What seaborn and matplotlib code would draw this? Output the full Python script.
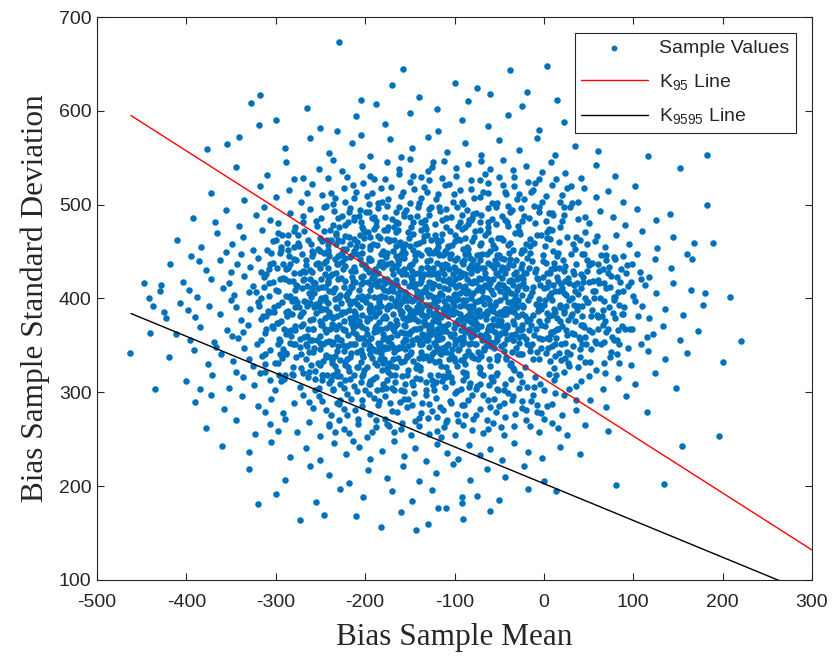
import matplotlib
matplotlib.use("Agg")
import matplotlib.pyplot as plt
import seaborn as sns
import pandas as pd

# (bias sample mean, bias sample standard deviation)
samples = [
    (-229,673),(-158,645),(3,648),(-38,643),(-100,630),(-75,624),(-19,620),(-318,617),(-328,608),(-319,585),
    (-341,572),(-377,559),(-447,417),(-442,401),(-428,414),(-437,392),(-463,342),(-435,304),(-441,363),(-423,379),
    (-320,181),(-273,164),(-246,169),(-182,157),(-143,153),(-119,177),(-110,177),(221,355),(200,332),(196,253),
    (154,243),(134,202),(81,201),(14,195),(-92,182),(-92,188),(182,553),(183,500),(189,459),(208,402),
    (116,552),(152,539),(180,406),(166,442),
    (-205,612),(-188,607),(-140,615),(-60,618),(-25,605),(-265,603),(-120,602),(-85,610),(-170,628),(15,612),
    (-300,590),(-250,582),(-210,595),(-178,586),(-150,598),(-118,578),(-92,590),(-62,584),(-40,596),(-5,580),(22,588),(-232,578),
    (-355,565),(-290,560),(-262,571),(-240,555),(-215,566),(-195,552),(-172,570),(-148,560),(-130,572),(-108,556),
    (-88,566),(-70,553),(-50,569),(-28,558),(-8,571),(12,553),(35,562),(60,557),(-160,551),(-205,574),
    (-345,540),(-310,532),(-288,546),(-270,528),(-252,538),(-236,548),(-220,530),(-204,541),(-190,527),(-176,545),
    (-162,533),(-150,549),(-138,529),(-125,540),(-112,547),(-98,531),(-85,543),(-72,526),(-60,538),(-46,548),
    (-33,530),(-20,541),(-6,527),(8,545),(24,534),(42,528),(58,542),(80,531),(-280,527),(-128,526),
    (-372,512),(-335,505),(-318,520),(-300,508),(-285,516),(-272,503),(-260,522),(-248,510),(-236,501),(-224,518),
    (-213,507),(-202,523),(-192,512),(-181,503),(-171,519),(-160,509),(-150,524),(-140,502),(-131,514),(-121,506),
    (-111,521),(-101,511),(-92,503),(-82,517),(-72,508),(-63,523),(-53,502),(-43,513),(-33,520),(-22,506),
    (-12,516),(-2,503),(9,521),(20,510),(32,502),(45,518),(58,508),(72,515),(88,503),(102,520),
    (-196,501),(-145,517),(-68,514),(-28,511),(-265,512),
    (-393,486),(-356,494),(-341,477),(-322,489),(-313,498),(-297,480),(-284,491),(-279,476),(-262,495),(-255,483),
    (-244,499),(-236,478),(-226,488),(-217,496),(-205,481),(-199,492),(-188,477),(-176,499),(-170,485),(-157,491),
    (-149,476),(-141,497),(-133,484),(-122,479),(-116,493),(-104,487),(-97,498),(-88,476),(-79,490),(-71,482),
    (-63,496),(-54,479),(-47,488),(-36,494),(-29,477),(-17,486),(-11,499),(2,483),(9,491),(18,476),
    (29,497),(38,485),(51,480),(63,493),(77,487),(91,478),(104,495),(126,484),(141,490),(-368,481),
    (-306,484),(-212,487),(-163,480),(-128,495),(-84,484),(-41,481),(-5,492),(23,489),(-270,488),(-192,486),
    (-410,462),(-384,455),(-366,470),(-349,458),(-337,466),(-326,452),(-315,473),(-303,461),(-294,455),(-286,468),
    (-275,459),(-268,472),(-259,451),(-250,464),(-241,457),(-233,470),(-225,453),(-218,466),(-209,460),(-202,474),
    (-194,456),(-186,467),(-180,451),(-172,462),(-165,471),(-158,455),(-151,465),(-143,458),(-137,473),(-129,452),
    (-121,463),(-114,469),(-107,456),(-99,461),(-92,474),(-85,453),(-78,466),(-70,459),(-62,471),(-55,454),
    (-48,464),(-40,457),(-32,470),(-25,452),(-16,463),(-8,468),(1,456),(9,473),(17,460),(26,466),
    (35,453),(46,471),(57,461),(68,455),(81,468),(95,458),(110,472),(127,454),(145,466),(168,459),
    (-356,450),(-298,470),(-246,472),(-212,451),(-176,473),(-146,452),(-118,455),(-88,465),(-59,462),(-20,458),
    (4,464),(40,462),(-280,455),(-226,461),(-161,460),
    (-418,437),(-395,445),(-378,430),(-362,441),(-350,428),(-339,447),(-329,434),(-320,443),(-311,426),(-303,438),
    (-295,449),(-288,431),(-280,442),(-273,427),(-266,436),(-258,448),(-251,433),(-244,440),(-237,426),(-230,445),
    (-223,435),(-216,429),(-209,447),(-203,437),(-196,443),(-189,428),(-183,439),(-176,449),(-170,431),(-163,441),
    (-157,427),(-150,436),(-144,446),(-137,432),(-131,440),(-124,428),(-118,448),(-111,437),(-105,443),(-98,429),
    (-92,439),(-85,447),(-79,432),(-72,441),(-66,427),(-59,436),(-52,446),(-45,433),(-38,442),(-31,428),
    (-24,437),(-16,449),(-9,431),(-1,440),(7,427),(15,445),(24,435),(33,429),(43,447),(54,438),
    (66,431),(79,444),(93,436),(108,428),(124,442),(142,433),(160,447),(-386,440),(-343,437),(-307,431),
    (-262,430),(-241,448),(-199,433),(-166,445),(-134,426),(-101,434),(-75,436),(-48,430),(-19,443),(11,438),
    (48,441),(-285,445),(-226,439),(-180,434),(-114,431),
    (-430,408),(-404,418),(-388,402),(-372,421),(-359,411),(-347,404),(-336,424),(-326,413),(-317,401),(-308,417),
    (-300,409),(-292,422),(-284,403),(-277,414),(-270,420),(-263,406),(-256,416),(-249,401),(-242,423),(-235,410),
    (-228,404),(-222,419),(-215,412),(-208,402),(-202,424),(-195,409),(-189,417),(-182,403),(-176,421),(-170,411),
    (-163,405),(-157,418),(-151,401),(-145,414),(-138,422),(-132,407),(-126,416),(-120,402),(-113,420),(-107,410),
    (-101,404),(-95,423),(-88,413),(-82,401),(-76,418),(-69,408),(-63,421),(-57,405),(-50,415),(-43,402),
    (-37,420),(-30,409),(-23,417),(-16,403),(-8,422),(0,411),(8,406),(16,419),(25,404),(34,414),
    (44,423),(55,408),(67,417),(80,402),(94,413),(109,421),(126,406),(144,416),(165,409),(-397,409),
    (-352,416),(-313,423),(-281,419),(-245,412),(-219,406),(-192,422),(-166,415),(-142,405),(-117,413),(-91,408),
    (-66,414),(-41,410),(-12,412),(20,411),(60,420),(-330,407),(-260,411),(-205,415),(-148,421),(-104,417),
    (-79,406),(-27,423),(5,418),(38,405),(-179,409),
    (-425,386),(-407,395),(-390,380),(-375,392),(-362,383),(-350,398),(-339,377),(-329,389),(-320,396),(-311,381),
    (-302,391),(-294,376),(-286,387),(-279,399),(-272,383),(-265,392),(-258,378),(-251,388),(-244,397),(-237,380),
    (-231,390),(-224,376),(-217,394),(-211,385),(-204,399),(-198,379),(-191,389),(-185,396),(-178,381),(-172,392),
    (-166,377),(-159,386),(-153,398),(-147,382),(-140,391),(-134,376),(-128,388),(-121,397),(-115,380),(-109,393),
    (-102,384),(-96,377),(-89,395),(-83,386),(-77,379),(-70,398),(-64,383),(-57,391),(-51,376),(-44,389),
    (-37,396),(-30,381),(-23,392),(-15,378),(-7,387),(1,398),(9,382),(18,393),(27,377),(37,388),
    (48,396),(60,380),(73,391),(87,384),(102,397),(118,379),(136,389),(156,382),(178,393),(-398,388),
    (-344,391),(-306,386),(-268,397),(-240,386),(-213,380),(-188,383),(-161,394),(-137,385),(-112,386),(-86,381),
    (-60,393),(-33,386),(-4,393),(22,385),(66,388),(-316,378),(-255,394),(-195,393),(-150,378),(-124,382),
    (-73,388),(-47,382),(11,389),(43,381),
    (-412,362),(-385,370),(-369,354),(-354,366),(-342,358),(-331,372),(-321,351),(-312,363),(-303,369),(-295,355),
    (-287,365),(-279,352),(-272,371),(-265,360),(-258,367),(-251,353),(-244,364),(-237,373),(-230,357),(-223,366),
    (-217,351),(-210,362),(-203,370),(-197,355),(-190,364),(-184,352),(-177,369),(-171,359),(-164,373),(-158,354),
    (-152,363),(-145,368),(-139,352),(-133,361),(-126,371),(-120,356),(-113,365),(-107,351),(-101,369),(-94,358),
    (-88,364),(-81,353),(-75,372),(-68,360),(-62,367),(-55,354),(-48,363),(-41,370),(-34,356),(-27,366),
    (-19,351),(-11,361),(-3,372),(6,357),(15,367),(24,353),(34,362),(45,370),(57,355),(70,364),
    (84,352),(99,368),(115,359),(133,371),(152,356),(173,365),(-396,356),(-337,364),(-299,374),(-262,356),
    (-233,368),(-206,358),(-180,362),(-155,357),(-129,366),(-104,360),(-78,366),(-52,359),(-23,360),(8,364),
    (40,357),(-349,360),(-283,360),(-214,370),(-168,365),(-142,358),(-117,363),(-91,355),(-58,372),(-6,358),
    (-420,338),(-392,345),(-376,330),(-361,341),(-348,333),(-336,347),(-325,328),(-315,339),(-306,345),(-297,331),
    (-289,342),(-281,327),(-273,348),(-266,336),(-258,343),(-251,329),(-244,340),(-237,334),(-230,349),(-223,332),
    (-216,342),(-209,327),(-202,338),(-196,346),(-189,331),(-182,341),(-176,326),(-169,336),(-162,347),(-156,333),
    (-149,343),(-142,329),(-136,339),(-129,348),(-122,332),(-116,342),(-109,327),(-102,337),(-95,346),(-88,330),
    (-81,340),(-74,335),(-67,347),(-60,328),(-52,339),(-45,344),(-37,331),(-29,341),(-21,327),(-12,336),
    (-3,347),(7,333),(17,342),(28,328),(40,338),(53,346),(67,331),(82,341),(98,329),(116,344),
    (136,336),(160,342),(-367,348),(-330,336),(-293,337),(-261,329),(-234,339),(-205,345),(-179,332),(-153,338),
    (-126,336),(-99,333),(-71,341),(-42,336),(-16,344),(12,339),(46,332),(-312,330),(-184,348),(-112,347),
    (-400,312),(-371,318),(-352,305),(-337,316),(-324,308),(-312,322),(-301,303),(-291,314),(-282,320),(-273,306),
    (-264,316),(-256,302),(-248,319),(-240,310),(-232,323),(-224,305),(-217,314),(-209,301),(-202,320),(-195,309),
    (-188,316),(-181,304),(-174,322),(-167,311),(-160,302),(-153,318),(-146,308),(-139,324),(-132,303),(-125,313),
    (-118,319),(-111,306),(-104,316),(-97,301),(-90,322),(-83,310),(-76,304),(-68,318),(-61,308),(-53,321),
    (-45,303),(-37,314),(-28,320),(-19,306),(-10,316),(0,302),(11,313),(23,322),(36,307),(50,317),
    (66,304),(83,315),(102,309),(124,321),(148,305),(-385,304),(-345,322),(-306,313),(-269,321),(-236,303),
    (-205,311),(-170,305),(-143,315),(-114,312),(-87,317),(-57,312),(-24,311),(6,320),(42,312),(-228,317),
    (-390,290),(-358,282),(-338,296),(-320,285),(-305,293),(-292,278),(-280,289),(-269,297),(-258,283),(-248,291),
    (-238,276),(-229,288),(-220,298),(-211,281),(-203,292),(-194,277),(-186,287),(-178,296),(-170,280),(-161,290),
    (-153,284),(-145,299),(-137,278),(-129,288),(-121,294),(-113,281),(-105,291),(-97,277),(-89,286),(-80,297),
    (-72,282),(-63,292),(-54,279),(-45,289),(-35,296),(-25,283),(-14,291),(-3,278),(9,288),(22,297),
    (36,281),(52,292),(70,284),(92,296),(115,279),(-372,297),(-312,279),(-263,290),(-224,282),(-190,294),
    (-157,293),(-125,280),(-85,292),(-50,285),(-8,286),
    (-378,262),(-345,270),(-323,256),(-306,266),(-290,272),(-276,258),(-263,268),(-251,253),(-240,264),(-229,271),
    (-218,257),(-208,266),(-198,252),(-188,263),(-178,272),(-168,258),(-159,267),(-149,254),(-140,264),(-130,273),
    (-120,259),(-110,268),(-100,255),(-90,265),(-79,272),(-68,257),(-57,267),(-45,254),(-33,264),(-20,271),
    (-6,258),(9,267),(26,255),(46,265),(72,259),(-297,259),(-234,258),(-173,264),(-115,252),(-62,261),
    (-360,243),(-330,236),(-305,247),(-284,231),(-266,241),(-250,228),(-235,246),(-221,234),(-207,242),(-194,229),
    (-181,238),(-168,248),(-156,232),(-144,241),(-132,227),(-120,245),(-108,235),(-96,229),(-84,244),(-72,233),
    (-60,240),(-47,228),(-33,246),(-18,236),(-2,230),(18,242),(40,234),(-214,248),
    (-330,218),(-290,207),(-262,222),(-240,212),(-218,203),(-197,217),(-176,209),(-158,221),(-140,205),(-121,214),
    (-102,224),(-83,207),(-64,218),(-44,210),(-22,222),(0,206),
    (-300,192),(-255,183),(-228,197),(-202,188),(-170,195),(-148,184),(-125,196),(-75,190),(-50,185),(-18,197),
    (-210,168),(-160,172),(-90,165),(-60,174),(-130,160),
    # dense core, read region by region
    (-257,347),(-253,411),(-249,372),(-246,438),(-243,319),(-241,395),(-238,462),(-236,354),(-233,427),(-231,381),
    (-228,309),(-226,449),(-224,366),(-221,403),(-219,481),(-217,338),(-214,419),(-212,376),(-210,455),(-208,327),
    (-206,391),(-204,437),(-202,358),(-200,471),(-255,385),(-250,451),(-247,333),(-242,417),(-239,368),(-235,493),
    (-232,344),(-229,402),(-225,431),(-222,313),(-218,388),(-215,446),(-211,351),(-207,409),(-203,476),(-201,324),
    (-259,428),(-252,305),(-245,379),(-240,445),(-234,399),(-227,356),(-223,467),(-216,396),(-209,343),(-205,423),
    (-258,367),(-248,412),(-237,331),(-230,421),(-220,349),(-213,434),(-206,372),(-254,477),(-244,354),(-233,468),
    (-226,386),(-219,327),(-212,397),(-204,448),(-251,397),(-239,424),(-231,359),(-222,443),(-214,364),(-207,488),
    (-256,323),(-247,389),(-236,407),(-228,334),(-217,458),(-211,418),(-203,341),(-243,462),(-232,317),(-224,412),
    (-250,360),(-238,381),(-229,476),(-220,405),(-213,319),(-202,399),(-245,426),(-234,442),(-225,350),(-216,374),
    (-198,362),(-197,418),(-195,341),(-194,453),(-192,387),(-191,314),(-189,431),(-188,371),(-186,496),(-185,402),
    (-183,336),(-182,447),(-180,379),(-179,421),(-177,305),(-176,463),(-174,355),(-173,393),(-171,438),(-170,328),
    (-168,414),(-167,371),(-165,482),(-164,346),(-162,429),(-161,388),(-159,317),(-158,452),(-156,363),(-155,407),
    (-153,339),(-152,471),(-150,384),(-149,423),(-147,352),(-146,398),(-144,441),(-143,326),(-141,376),(-140,459),
    (-199,396),(-196,441),(-193,358),(-190,474),(-187,329),(-184,386),(-181,412),(-178,348),(-175,437),(-172,373),
    (-169,451),(-166,327),(-163,401),(-160,364),(-157,488),(-154,379),(-151,434),(-148,311),(-145,412),(-142,367),
    (-198,327),(-194,379),(-190,402),(-186,353),(-183,465),(-179,336),(-176,391),(-172,418),(-168,343),(-165,456),
    (-161,409),(-157,372),(-154,426),(-150,341),(-146,469),(-142,391),(-197,471),(-192,428),(-188,344),(-184,419),
    (-180,357),(-177,444),(-173,331),(-169,384),(-166,435),(-162,348),(-158,397),(-155,458),(-151,362),(-147,381),
    (-143,415),(-140,337),(-196,389),(-191,346),(-187,457),(-182,367),(-178,402),(-174,476),(-171,352),(-167,396),
    (-163,473),(-160,332),(-156,443),(-152,398),(-148,356),(-144,378),(-141,427),(-195,312),(-189,369),(-185,436),
    (-181,324),(-177,379),(-173,461),(-169,408),(-164,361),(-159,426),(-155,346),(-151,389),(-147,437),(-143,357),
    (-199,433),(-193,414),(-187,391),(-180,447),(-174,408),(-167,319),(-160,447),(-153,404),(-146,333),(-140,395),
    (-139,369),(-138,446),(-136,352),(-135,408),(-133,477),(-132,339),(-130,393),(-129,431),(-127,318),(-126,462),
    (-124,376),(-123,415),(-121,349),(-120,438),(-118,382),(-117,497),(-115,328),(-114,404),(-112,367),(-111,451),
    (-109,343),(-108,419),(-106,388),(-105,472),(-103,311),(-102,426),(-100,374),(-99,441),(-97,356),(-96,399),
    (-94,462),(-93,334),(-91,411),(-90,378),(-88,447),(-87,321),(-85,391),(-84,433),(-82,359),(-81,484),
    (-137,401),(-134,359),(-131,452),(-128,387),(-125,341),(-122,468),(-119,398),(-116,357),(-113,433),(-110,316),
    (-107,401),(-104,447),(-101,337),(-98,412),(-95,377),(-92,489),(-89,354),(-86,421),(-83,392),(-80,338),
    (-139,327),(-136,423),(-133,381),(-130,356),(-127,441),(-124,402),(-121,311),(-118,459),(-115,371),(-112,426),
    (-109,392),(-106,335),(-103,457),(-100,405),(-97,328),(-94,383),(-91,437),(-88,366),(-85,479),(-82,404),
    (-138,482),(-135,337),(-132,412),(-129,372),(-126,426),(-123,353),(-120,391),(-117,446),(-114,347),(-111,383),
    (-108,436),(-105,362),(-102,395),(-99,468),(-96,345),(-93,424),(-90,359),(-87,406),(-84,351),(-81,427),
    (-137,389),(-131,434),(-125,365),(-119,422),(-113,389),(-107,455),(-101,362),(-95,429),(-89,393),(-83,443),
    (-134,467),(-128,334),(-122,426),(-116,381),(-110,476),(-104,341),(-98,386),(-92,352),(-86,377),(-80,461),
    (-136,362),(-130,403),(-124,449),(-118,346),(-112,397),(-106,421),(-100,351),(-94,406),(-88,426),(-82,381),
    (-133,393),(-127,361),(-121,378),(-115,436),(-109,365),(-103,387),(-97,443),(-91,372),(-85,344),(-139,416),
    (-79,373),(-78,419),(-76,352),(-75,446),(-73,327),(-72,398),(-70,371),(-69,432),(-67,345),(-66,468),
    (-64,387),(-63,412),(-61,336),(-60,451),(-58,366),(-57,421),(-55,393),(-54,318),(-52,437),(-51,377),
    (-49,408),(-48,349),(-46,462),(-45,384),(-43,427),(-42,338),(-40,396),(-39,449),(-37,361),(-36,418),
    (-34,326),(-33,373),(-31,441),(-30,391),(-28,353),(-27,469),(-25,404),(-24,341),(-22,427),(-21,381),
    (-77,396),(-74,343),(-71,457),(-68,402),(-65,362),(-62,481),(-59,388),(-56,347),(-53,412),(-50,361),
    (-47,434),(-44,405),(-41,372),(-38,329),(-35,452),(-32,404),(-29,367),(-26,433),(-23,391),(-20,357),
    (-79,441),(-76,386),(-73,422),(-70,339),(-67,394),(-64,447),(-61,371),(-58,313),(-55,441),(-52,356),
    (-49,386),(-46,414),(-43,363),(-40,477),(-37,387),(-34,436),(-31,347),(-28,413),(-25,372),(-22,452),
    (-78,361),(-72,381),(-66,423),(-60,354),(-54,396),(-48,443),(-42,371),(-36,392),(-30,421),(-24,383),
    (-75,409),(-69,356),(-63,438),(-57,378),(-51,464),(-45,351),(-39,419),(-33,398),(-27,341),(-21,411),
    (-77,472),(-71,326),(-65,378),(-59,409),(-53,334),(-47,371),(-41,432),(-35,376),(-29,398),(-23,421),
    (-19,376),(-17,432),(-15,349),(-13,407),(-11,459),(-9,368),(-7,421),(-5,336),(-3,389),(-1,446),
    (1,371),(3,412),(5,347),(7,463),(9,398),(11,326),(13,433),(15,379),(17,408),(19,352),
    (21,441),(23,387),(25,366),(27,422),(29,341),(31,401),(33,458),(35,376),(37,417),(39,359),
    (-18,398),(-14,372),(-10,428),(-6,399),(-2,357),(2,438),(6,381),(10,414),(14,358),(18,391),
    (22,406),(26,343),(30,381),(34,426),(38,392),(-16,456),(-12,382),(-8,343),(-4,414),(0,393),
    (4,377),(8,431),(12,386),(16,449),(20,371),(24,419),(28,398),(32,363),(36,437),(-20,411),
    (-17,366),(-13,351),(-9,394),(-5,376),(-1,423),(3,358),(7,402),(11,365),(15,423),(19,334),
    (42,372),(44,418),(47,351),(49,396),(52,437),(54,364),(57,408),(59,382),(62,429),(64,351),
    (67,397),(69,441),(72,368),(74,412),(77,385),(79,356),(82,423),(84,393),(87,371),(89,445),
    (43,392),(48,429),(53,381),(58,353),(63,401),(68,376),(73,434),(78,402),(83,366),(88,408),
    (45,447),(50,366),(55,419),(60,437),(65,381),(70,411),(75,343),(80,379),(85,418),(46,401),
    (-298,374),(-295,421),(-292,346),(-289,403),(-286,452),(-283,366),(-280,427),(-277,338),(-274,391),(-271,447),
    (-268,359),(-265,413),(-262,377),(-299,433),(-296,357),(-293,396),(-290,318),(-287,381),(-284,437),(-281,352),
    (-278,409),(-275,468),(-272,326),(-269,386),(-266,441),(-263,343),(-261,402),(-297,408),(-291,368),(-285,419),
    (-279,391),(-273,357),(-267,428),(-264,462),(-294,452),(-288,341),(-282,384),(-276,413),(-270,373),(-266,396),
    (-227,395),(-219,361),(-211,429),(-203,382),(-195,466),(-187,413),(-179,346),(-171,401),(-163,437),(-155,371),
    (-147,418),(-139,352),(-131,468),(-123,396),(-115,341),(-107,381),(-99,421),(-91,398),(-83,362),(-75,430),
    (-67,383),(-59,349),(-51,425),(-43,389),(-35,356),(-224,344),(-216,413),(-208,358),(-200,436),(-192,337),
    (-184,398),(-176,358),(-168,462),(-160,383),(-152,349),(-144,401),(-136,382),(-128,449),(-120,367),(-112,411),
    (-104,388),(-96,463),(-88,339),(-80,417),(-72,361),(-64,401),(-56,433),(-48,376),(-40,408),(-32,362),
    (-229,372),(-221,453),(-213,387),(-205,332),(-197,403),(-189,381),(-181,439),(-173,357),(-165,392),(-157,431),
    (-149,365),(-141,448),(-133,372),(-125,411),(-117,333),(-109,449),(-101,392),(-93,366),(-85,408),(-77,351),
    (-69,447),(-61,398),(-53,372),(-45,442),(-37,406),(-29,381),(-227,422),(-219,398),(-211,371),(-203,456),
    (-195,386),(-187,365),(-179,473),(-171,411),(-163,337),(-155,449),(-147,397),(-139,427),(-131,381),(-123,343),
    (-115,462),(-107,373),(-99,356),(-91,453),(-83,418),(-75,368),(-67,433),(-59,371),(-51,339),(-43,411),
    (-225,367),(-217,444),(-209,394),(-201,351),(-193,441),(-185,375),(-177,419),(-169,348),(-161,458),(-153,391),
    (-145,426),(-137,343),(-129,418),(-121,361),(-113,446),(-105,399),(-97,373),(-89,441),(-81,375),(-73,412),
    (-65,349),(-57,457),(-49,398),(-41,357),(-33,426),(-25,367),(-222,386),(-214,351),(-206,442),(-198,376),
    (-190,423),(-182,392),(-174,347),(-166,420),(-158,379),(-150,456),(-142,408),(-134,374),(-126,393),(-118,427),
    (-110,349),(-102,415),(-94,392),(-86,455),(-78,337),(-70,421),(-62,366),(-54,427),(-46,387),(-38,459),
    (-218,408),(-210,381),(-202,418),(-194,349),(-186,427),(-178,416),(-170,369),(-162,441),(-154,356),(-146,387),
    (-138,406),(-130,426),(-122,385),(-114,358),(-106,431),(-98,398),(-90,334),(-82,436),(-74,397),(-66,356),
    (-58,392),(-50,446),(-42,383),(-34,414),(-26,448),(-230,437),(-212,463),(-196,428),(-180,331),(-164,414),
    (-148,429),(-132,356),(-116,406),(-100,432),(-84,368),(-68,412),(-52,384),(-36,343),(-20,427),(-223,329),
    (-207,376),(-191,458),(-175,389),(-159,348),(-143,386),(-127,404),(-111,371),(-95,414),(-79,391),(-63,359),
    (-47,422),(-31,395),(-215,423),(-199,367),(-183,351),(-167,434),(-151,413),(-135,461),(-119,375),(-103,346),
    (-87,398),(-71,473),(-55,364),(-39,437),(-220,336),(-204,403),(-188,417),(-172,392),(-156,403),(-140,356),
    (-124,433),(-108,392),(-92,427),(-76,374),(-60,416),(-44,367),(-28,359),(-217,379),(-201,464),(-185,344),
    (-169,426),(-153,377),(-137,419),(-121,452),(-105,416),(-89,379),(-73,446),(-57,387),(-41,389),(-25,393),
    (-212,484),(-196,492),(-178,487),(-162,497),(-146,481),(-128,489),(-110,495),(-94,482),(-76,491),(-58,485),
    (-40,499),(-24,483),(-203,317),(-187,302),(-171,318),(-155,309),(-139,314),(-123,303),(-107,322),(-91,313),
    (-75,307),(-59,316),(-43,309),(-27,318),(-11,306),(-218,323),(-196,309),(-176,313),(-152,324),(-132,311),
    (-113,317),(-93,304),(-71,321),(-51,302),(-33,324),(-222,478),(-206,468),(-188,483),(-168,476),(-150,487),
    (-132,474),(-114,484),(-96,477),(-80,486),(-62,476),(-44,484),(-28,472),(-10,480),(6,474),(-236,318),
    (-13,440),(-7,392),(3,427),(9,349),(17,433),(25,392),(33,349),(41,426),(-3,468),(13,352),
    (-251,346),(-245,402),(-239,338),(-233,458),(-227,383),(-248,373),(-242,433),(-235,371),(-253,438),(-244,389),
    (-262,421),(-259,356),(-253,453),(-247,318),(-241,381),(-257,391),(-249,421),(-240,355),(-234,411),(-228,446),
    # middle ring: left side
    (-317,356),(-313,412),(-309,387),(-305,448),(-301,331),(-297,393),(-293,468),(-289,362),(-285,402),(-281,318),
    (-277,441),(-273,381),(-269,429),(-265,349),(-261,458),(-257,406),(-253,331),(-249,486),(-245,367),(-241,419),
    (-237,352),(-233,391),(-316,428),(-312,341),(-308,403),(-304,371),(-300,462),(-296,318),(-292,437),(-288,386),
    (-284,353),(-280,472),(-276,396),(-272,341),(-268,421),(-264,368),(-260,445),(-256,314),(-252,392),(-248,461),
    (-244,338),(-240,408),(-236,379),(-232,437),(-319,392),(-311,367),(-303,418),(-295,341),(-287,459),(-279,366),
    (-271,411),(-263,322),(-255,437),(-247,351),(-239,473),(-231,401),(-314,381),(-306,437),(-298,352),(-290,421),
    (-282,397),(-274,456),(-266,351),(-258,418),(-250,376),(-242,452),(-234,328),(-318,321),(-310,452),(-302,386),
    (-294,312),(-286,433),(-278,371),(-270,482),(-262,395),(-254,356),(-246,448),(-238,313),(-230,462),(-322,407),
    # middle ring: right side
    (2,342),(6,403),(10,451),(14,318),(18,376),(22,429),(26,361),(30,447),(34,393),(38,327),
    (42,411),(46,359),(50,436),(54,388),(58,324),(62,416),(66,372),(70,446),(74,338),(78,398),
    (82,356),(86,431),(90,391),(94,347),(98,418),(4,471),(8,362),(12,408),(16,367),(20,483),
    (24,337),(28,417),(32,384),(36,466),(40,346),(44,372),(48,458),(52,332),(56,401),(60,367),
    (64,446),(68,321),(72,427),(76,359),(80,442),(84,331),(88,383),(92,427),(96,367),(100,403),
    (3,385),(11,432),(19,415),(27,331),(35,408),(43,351),(51,418),(59,467),(67,354),(75,424),
    (83,407),(91,368),(99,437),(105,381),(109,352),(113,414),(104,447),(110,392),(118,423),(122,362),
    # middle ring: top
    (-246,497),(-238,512),(-230,486),(-222,503),(-214,521),(-206,494),(-198,509),(-190,487),(-182,518),(-174,506),
    (-166,492),(-158,513),(-150,502),(-142,488),(-134,519),(-126,498),(-118,511),(-110,486),(-102,503),(-94,516),
    (-86,494),(-78,507),(-70,489),(-62,512),(-54,497),(-46,521),(-38,492),(-30,506),(-22,488),(-14,514),
    (-6,497),(2,509),(10,489),(18,503),(26,518),(-242,528),(-226,536),(-210,514),(-194,531),(-178,527),
    (-162,538),(-146,531),(-130,536),(-114,528),(-98,539),(-82,526),(-66,533),(-50,529),(-34,537),(-18,524),
    (-2,535),(14,527),(30,520),(-234,507),(-218,492),(-186,502),(-154,494),(-138,507),(-106,522),(-90,501),
    (-58,502),(-42,511),(-26,496),(-10,523),(6,491),(22,497),(38,503),(46,487),(-124,545),(-70,547),
    # middle ring: bottom
    (-252,296),(-244,281),(-236,304),(-228,292),(-220,276),(-212,307),(-204,285),(-196,298),(-188,271),(-180,309),
    (-172,289),(-164,279),(-156,301),(-148,286),(-140,273),(-132,297),(-124,308),(-116,284),(-108,271),(-100,299),
    (-92,287),(-84,306),(-76,276),(-68,297),(-60,284),(-52,304),(-44,274),(-36,292),(-28,305),(-20,281),
    (-12,297),(-4,309),(4,285),(12,299),(20,276),(28,304),(36,292),(-240,266),(-224,261),(-208,272),
    (-192,258),(-176,266),(-160,261),(-144,269),(-128,256),(-112,263),(-96,269),(-80,260),(-64,271),(-48,263),
    (-32,277),(-16,264),(0,272),(16,262),(-248,313),(-232,289),(-216,293),(-200,303),(-184,291),(-168,303),
    (-152,293),(-136,289),(-120,274),(-104,289),(-88,276),(-72,309),(-56,293),(-40,299),(-24,291),(-8,279),
]
sample_mean = [p[0] for p in samples]
sample_std = [p[1] for p in samples]

# straight lines (end points)
line_x = [-462, 300]
k95_y = [595, 132]
k9595_y = [384, 85]

x_ticks = [-500, -400, -300, -200, -100, 0, 100, 200, 300]
y_ticks = [100, 200, 300, 400, 500, 600, 700]

sns.set_theme(style="ticks")
plt.rcParams['font.family'] = ['Liberation Sans', 'DejaVu Sans']
plt.rcParams['axes.unicode_minus'] = False
plt.rcParams['mathtext.fontset'] = 'custom'
plt.rcParams['mathtext.rm'] = 'Liberation Sans'
plt.rcParams['mathtext.it'] = 'Liberation Sans:italic'
plt.rcParams['mathtext.bf'] = 'Liberation Sans:bold'

axis_col = '#262626'
fig = plt.figure(figsize=(8.35, 6.58), dpi=100)
ax = fig.add_axes([97/835, 1 - 580/658, (812-97)/835, (580-17)/658])

df = pd.DataFrame({'mean': sample_mean, 'std': sample_std})
sns.scatterplot(data=df, x='mean', y='std', ax=ax, color='#0072BD', s=22,
                linewidth=0, label='Sample Values', zorder=2)
sns.lineplot(x=line_x, y=k95_y, ax=ax, color='#FF0000', linewidth=1.0,
             label=r'$\mathrm{K}_{95}$ Line', zorder=3)
sns.lineplot(x=line_x, y=k9595_y, ax=ax, color='black', linewidth=1.0,
             label=r'$\mathrm{K}_{9595}$ Line', zorder=3)

ax.set_xlim(-500, 300)
ax.set_ylim(100, 700)
ax.set_xticks(x_ticks)
ax.set_yticks(y_ticks)
ax.tick_params(direction='in', length=5, width=0.8, top=True, right=True,
               labelsize=14, colors=axis_col)
ax.tick_params(axis='x', pad=10)
ax.tick_params(axis='y', pad=4)
for sp in ax.spines.values():
    sp.set_visible(True)
    sp.set_color(axis_col)
    sp.set_linewidth(0.8)

ax.set_xlabel('Bias Sample Mean', family=['Liberation Serif'], fontsize=22.5,
              color=axis_col, labelpad=9)
ax.set_ylabel('Bias Sample Standard Deviation', family=['Liberation Serif'],
              fontsize=22.5, color=axis_col, labelpad=6)

leg = ax.legend(loc='upper right', bbox_to_anchor=(0.978, 0.972), fontsize=14,
                frameon=True, fancybox=False, framealpha=1, edgecolor=axis_col,
                handlelength=3.4, labelspacing=0.75, borderpad=0.35,
                handletextpad=0.6, markerscale=0.9, borderaxespad=0)
leg.get_frame().set_linewidth(0.8)

fig.savefig('out.png', dpi=100)
